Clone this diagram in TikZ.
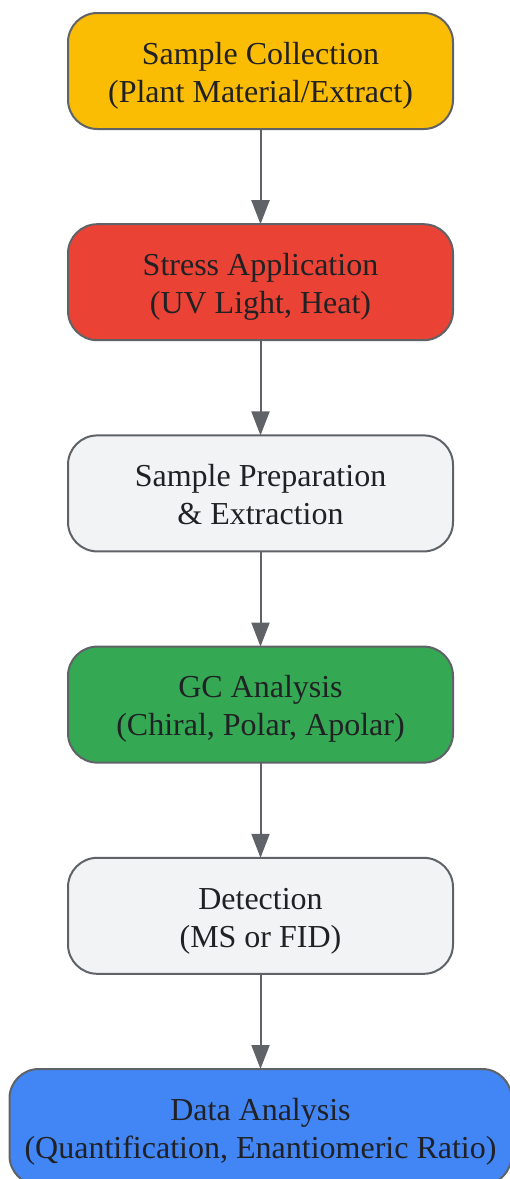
\documentclass[tikz,border=0pt]{standalone}
\usepackage{fontspec}
\setmainfont{Liberation Serif}
\usetikzlibrary{arrows.meta}
\usetikzlibrary{positioning}
\tikzset{stepbox/.style = {draw=mgray, line width=1.5pt, rounded corners=22pt, align=center,
    minimum width=288.75pt, minimum height=87pt, inner sep=0, outer sep=0, text=mtext,
    font=\fontsize{24}{28.5}\selectfont, text height=52pt, text depth=5pt}}
\tikzset{flow/.style = {draw=mgray, line width=1.5pt, -{Triangle[length=18pt, width=13.5pt]}}}
\definecolor{mgray}{HTML}{5F6368}
\definecolor{mtext}{HTML}{202124}
\definecolor{myellow}{HTML}{FBBC04}
\definecolor{mred}{HTML}{EA4335}
\definecolor{mlight}{HTML}{F1F3F4}
\definecolor{mgreen}{HTML}{34A853}
\definecolor{mblue}{HTML}{4285F4}

\begin{document}
\begin{tikzpicture}[x=0.75pt, y=0.75pt, node distance=71.4pt]
    \useasboundingbox (0, 0) rectangle (510, -1179);
    \clip (0, 0) rectangle (510, -1179);

    \node [stepbox, fill=myellow] (collect) at (260.5, -71) {Sample Collection\\(Plant Material/Extract)};
    \node [stepbox, fill=mred, below=of collect] (stress) {Stress Application\\(UV Light, Heat)};
    \node [stepbox, fill=mlight, below=of stress] (prep) {Sample Preparation\\\& Extraction};
    \node [stepbox, fill=mgreen, below=of prep] (gc) {GC Analysis\\(Chiral, Polar, Apolar)};
    \node [stepbox, fill=mlight, below=of gc] (detect) {Detection\\(MS or FID)};
    \node [stepbox, fill=mblue, minimum width=376.5pt, below=of detect] (data) {Data Analysis\\(Quantification, Enantiomeric Ratio)};

    \draw [flow] (collect) -- (stress);
    \draw [flow] (stress) -- (prep);
    \draw [flow] (prep) -- (gc);
    \draw [flow] (gc) -- (detect);
    \draw [flow] (detect) -- (data);
  \end{tikzpicture}
\end{document}
